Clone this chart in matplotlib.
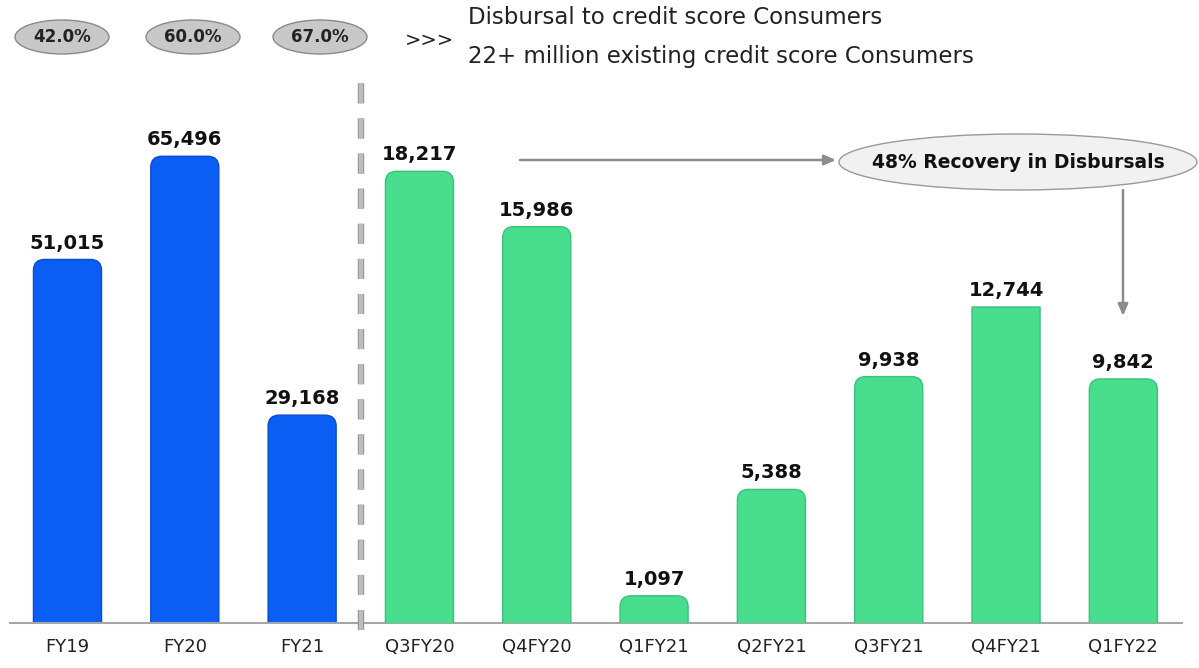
import matplotlib
matplotlib.use('Agg')
import matplotlib.pyplot as plt
from matplotlib.patches import FancyBboxPatch, Ellipse
from matplotlib import patheffects as pe

# yearly disbursals (left scale) and quarterly disbursals (right scale)
years = ['FY19', 'FY20', 'FY21']
year_vals = [51015, 65496, 29168]
year_share = ['42.0%', '60.0%', '67.0%']

quarters = ['Q3FY20', 'Q4FY20', 'Q1FY21', 'Q2FY21', 'Q3FY21', 'Q4FY21', 'Q1FY22']
quarter_vals = [18217, 15986, 1097, 5388, 9938, 12744, 9842]

header_1 = 'Disbursal to credit score Consumers'
header_2 = '22+ million existing credit score Consumers'
recovery = '48% Recovery in Disbursals'

W, H = 1199, 668
fig = plt.figure(figsize=(W / 100, H / 100), dpi=100)

YTOP_L, YTOP_R = 76200, 21900
ax = fig.add_axes([10 / W, 45 / H, 1172 / W, 543 / H])
ax2 = ax.twinx()
ax.set_xlim(-0.49, 9.5)
ax.set_ylim(0, YTOP_L)
ax2.set_ylim(0, YTOP_R)

bw = 0.58
rx = 11 / 117.3   # corner radius in x units (~11 px)


def rounded_bars(axis, xs, vals, face, edge, ytop, flat=()):
    ry = 11 * ytop / 543
    for i, (x, v) in enumerate(zip(xs, vals)):
        rs = 0.001 if i in flat else rx
        p = FancyBboxPatch((x - bw / 2, -ry), bw, v + ry,
                           boxstyle=f'round,pad=0,rounding_size={rs}',
                           mutation_aspect=ry / rx,
                           facecolor=face, edgecolor=edge, lw=1.0)
        axis.add_patch(p)
        axis.annotate(f'{v:,}', (x, v), xytext=(0, 5), textcoords='offset points',
                      ha='center', va='bottom', fontsize=14, fontweight='bold',
                      color='#111111')


xs_year = list(range(len(years)))
xs_q = [len(years) + i for i in range(len(quarters))]
rounded_bars(ax, xs_year, year_vals, '#0b5ef3', '#0a4ccc', YTOP_L)
rounded_bars(ax2, xs_q, quarter_vals, '#48de8e', '#38c27b', YTOP_R, flat=(5,))

ax.set_xticks(xs_year + xs_q)
ax.set_xticklabels(years + quarters)
ax.tick_params(axis='x', length=0, pad=11, labelsize=13, labelcolor='#222222')
for a in (ax, ax2):
    a.set_yticks([])
    for s in ('top', 'left', 'right'):
        a.spines[s].set_visible(False)
ax2.spines['bottom'].set_visible(False)
ax.spines['bottom'].set_color('#a6a6a6')
ax.spines['bottom'].set_linewidth(1.5)

# dashed divider between yearly and quarterly bars
sep = ax.plot([2.5, 2.5], [-0.013, 0.995], transform=ax.get_xaxis_transform(),
              color='#bdbdbd', lw=3.2, linestyle=(0, (4.5, 3.4)),
              dash_capstyle='butt', clip_on=False, zorder=3)[0]
sep.set_path_effects([pe.Stroke(linewidth=4.6, foreground='#8f8f8f'), pe.Normal()])

# overlay in pixel coordinates for the header and callouts
ov = fig.add_axes([0, 0, 1, 1], zorder=5)
ov.set_xlim(0, W)
ov.set_ylim(H, 0)
ov.axis('off')

for cx, txt in zip([62, 193, 320], year_share):
    ov.add_patch(Ellipse((cx, 37), 94, 34, facecolor='#c8c8c8', edgecolor='#8a8a8a', lw=1))
    ov.text(cx, 37, txt, ha='center', va='center', fontsize=12, fontweight='bold',
            color='#222222')

ov.text(405, 40, '>>>', ha='left', va='center', fontsize=14, color='#222222')
ov.text(468, 18, header_1, ha='left', va='center', fontsize=16.5, color='#222222')
ov.text(468, 57, header_2, ha='left', va='center', fontsize=16.5, color='#222222')

ov.add_patch(Ellipse((1018, 162), 358, 56, facecolor='#f1f1f1', edgecolor='#9a9a9a', lw=1))
ov.text(1018, 162, recovery, ha='center', va='center', fontsize=13.5,
        fontweight='bold', color='#111111')

arrow = dict(arrowstyle='-|>,head_length=0.7,head_width=0.3', color='#8c8c8c', lw=1.8,
             shrinkA=0, shrinkB=0)
ov.annotate('', xy=(836, 160), xytext=(520, 160), arrowprops=arrow)
ov.annotate('', xy=(1123, 316), xytext=(1123, 190), arrowprops=arrow)

fig.savefig('out.png', dpi=100)
